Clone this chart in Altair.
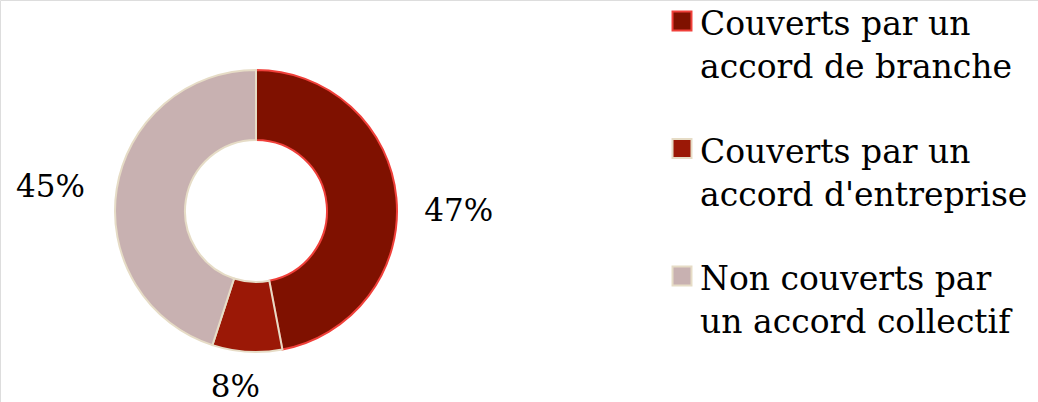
import altair as alt
import pandas as pd

categories = ["Couverts par un accord de branche",
              "Couverts par un accord d'entreprise",
              "Non couverts par un accord collectif"]
legend_lines = ["Couverts par un|accord de branche",
                "Couverts par un|accord d'entreprise",
                "Non couverts par|un accord collectif"]
values = [47, 8, 45]
labels = ["47%", "8%", "45%"]
fills = ["#7F1100", "#9B1806", "#C8B1B1"]
strokes = ["#F0403A", "#E6DCC6", "#E6DCC6"]

df = pd.DataFrame({
    "cat": categories,
    "legend": legend_lines,
    "v": values,
    "label": labels,
    "idx": list(range(len(categories))),
})

FONT = "DejaVu Serif"
CX, CY = 256, 211

color = alt.Color("cat:N", scale=alt.Scale(domain=categories, range=fills), legend=None)
stroke = alt.Stroke("cat:N", scale=alt.Scale(domain=categories, range=strokes), legend=None)

base = alt.Chart(df)

arcs = base.mark_arc(outerRadius=141, innerRadius=71, strokeWidth=2).encode(
    theta=alt.Theta("v:Q", stack=True),
    order=alt.Order("idx:Q"),
    color=color,
    stroke=stroke,
    x=alt.value(CX), y=alt.value(CY),
)

pct = base.transform_joinaggregate(
    total="sum(v)"
).transform_window(
    cum="sum(v)", sort=[alt.SortField("idx")], frame=[None, 0]
).transform_calculate(
    mid="(datum.cum - datum.v / 2) / datum.total * 2 * PI + (datum.idx == 0 ? 0.05 : (datum.idx == 1 ? 0.06 : 0))",
    lr="datum.idx == 0 ? 203 : (datum.idx == 1 ? 168 : 208)"
).mark_text(font=FONT, fontSize=31, color="#000000", align="center", baseline="middle").encode(
    theta=alt.Theta("mid:Q", scale=None),
    radius=alt.Radius("lr:Q", scale=None),
    text="label:N",
    x=alt.value(CX), y=alt.value(CY + 10),
)

ypos = alt.Y("cat:N", scale=alt.Scale(domain=categories, range=[35, 290], type="point", padding=0), axis=None)

leg_sq = base.mark_square(size=360, strokeWidth=2, opacity=1).encode(
    x=alt.value(682),
    y=ypos,
    yOffset=alt.value(-14),
    color=color,
    stroke=stroke,
)

leg_txt = base.mark_text(font=FONT, fontSize=33, align="left", baseline="alphabetic",
                         lineBreak="|", lineHeight=43, color="#000000").encode(
    x=alt.value(700),
    y=ypos,
    text="legend:N",
)

chart = alt.layer(arcs, pct, leg_sq, leg_txt).properties(
    width=1038, height=402, autosize=alt.AutoSizeParams(type="none"), padding=0
).configure_view(stroke=None).configure(background="#ffffff")

chart.save("out.html", embed_options={"renderer": "svg", "actions": False})
